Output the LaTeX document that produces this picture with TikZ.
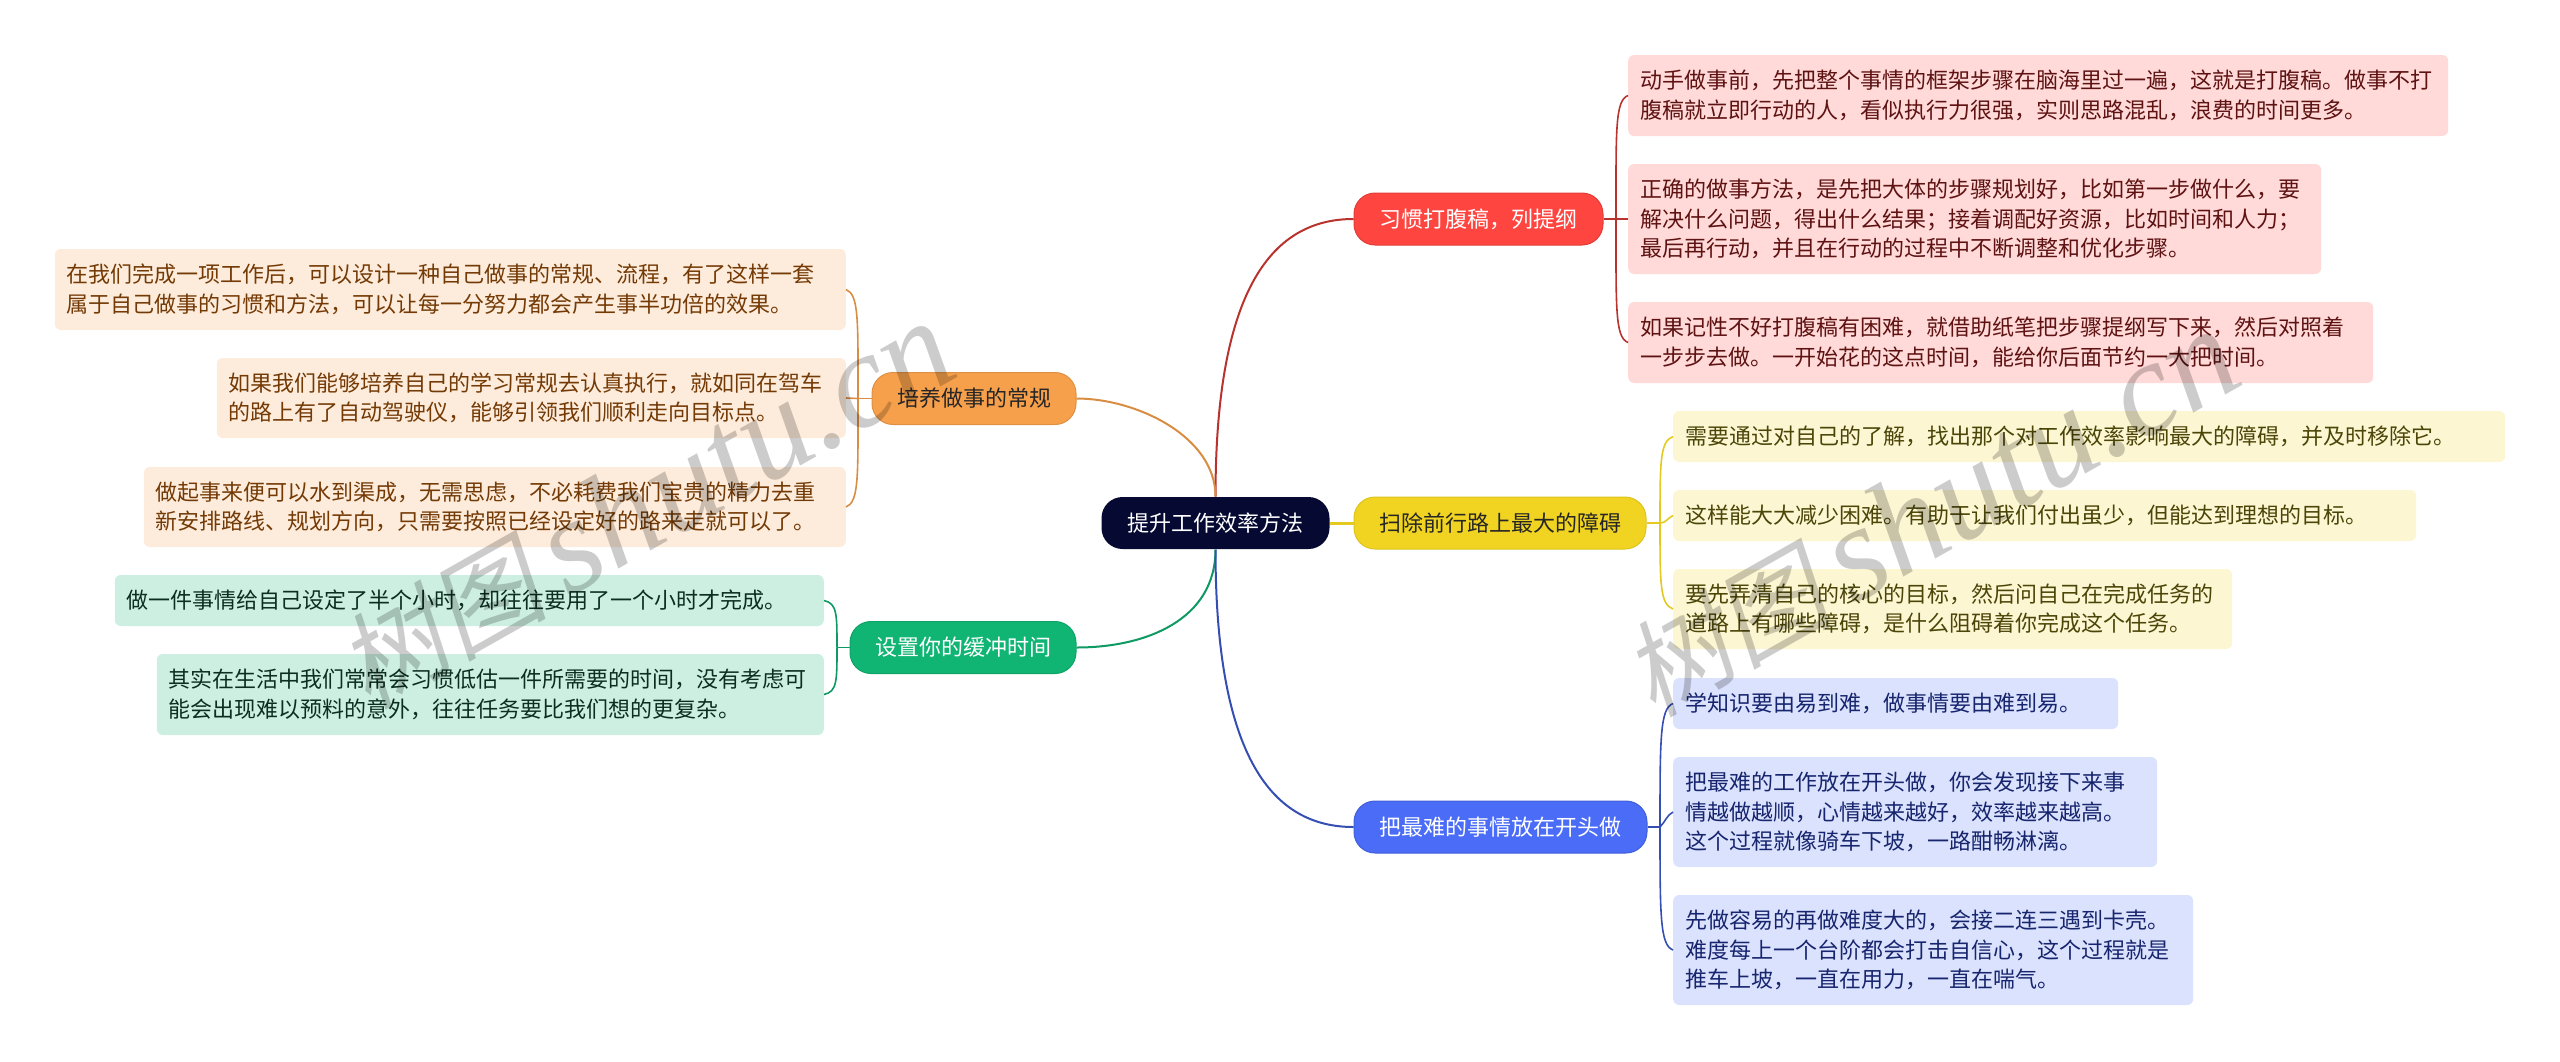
\documentclass[tikz,border=0pt]{standalone}
\usepackage{fontspec}
\setmainfont{Noto Sans CJK SC}
\newfontfamily\wmcjk[FakeSlant=0.2]{Noto Sans CJK SC}
\newfontfamily\wmlatin{Liberation Serif}

\definecolor{cRoot}{HTML}{060A33}
\definecolor{cRed}{HTML}{FF4540}
\definecolor{cOrange}{HTML}{F7A04B}
\definecolor{cYellow}{HTML}{F0D421}
\definecolor{cGreen}{HTML}{10B573}
\definecolor{cBlue}{HTML}{4A6CF7}
\definecolor{tRedText}{HTML}{5E1212}
\definecolor{tOrangeText}{HTML}{743A06}
\definecolor{tYellowText}{HTML}{4C4508}
\definecolor{tGreenText}{HTML}{0C2E22}
\definecolor{tBlueText}{HTML}{17256E}

\tikzset{
  topic/.style={rounded corners=21pt, minimum height=52pt, inner sep=0pt, line width=1pt, font=\fontsize{22}{29.5}\selectfont},
  sub/.style={rounded corners=6pt, inner xsep=12pt, inner ysep=0pt, align=left, font=\fontsize{22}{29.5}\selectfont},
  subRed/.style={sub, fill=cRed!20, text=tRedText, anchor=west},
  subYellow/.style={sub, fill=cYellow!20, text=tYellowText, anchor=west},
  subBlue/.style={sub, fill=cBlue!20, text=tBlueText, anchor=west},
  subOrange/.style={sub, fill=cOrange!20, text=tOrangeText, anchor=east},
  subGreen/.style={sub, fill=cGreen!21, text=tGreenText, anchor=east},
  lineRed/.style={draw=cRed!72!black, line width=1.6pt},
  lineOrange/.style={draw=cOrange!88!black, line width=1.6pt},
  lineYellow/.style={draw=cYellow!95!black, line width=1.6pt},
  lineGreen/.style={draw=cGreen!85!black, line width=1.6pt},
  lineBlue/.style={draw=cBlue!72!black, line width=1.6pt},
  mark text/.style={text=black, opacity=0.2, rotate=29.5}
}

\begin{document}
\begin{tikzpicture}[x=1pt, y=-1pt]
    \useasboundingbox (0,0) rectangle (2560,1061);

    % Centre
    \node[topic, fill=cRoot, text=white, minimum width=228pt] (root) at (1215.5,523) {提升工作效率方法};

    % Topics
    \node[topic, fill=cRed, draw=cRed!88!black, text=white, minimum width=249pt] (nRed) at (1478.5,219) {习惯打腹稿，列提纲};
    \node[topic, fill=cYellow, draw=cYellow!92!black, text=black!85, minimum width=292pt] (nYellow) at (1500,523) {扫除前行路上最大的障碍};
    \node[topic, fill=cBlue, draw=cBlue!88!black, text=white, minimum width=293pt] (nBlue) at (1500.5,827) {把最难的事情放在开头做};
    \node[topic, fill=cOrange, draw=cOrange!90!black, text=black!85, minimum width=204pt] (nOrange) at (974,398.5) {培养做事的常规};
    \node[topic, fill=cGreen, draw=cGreen!90!black, text=white, minimum width=226pt] (nGreen) at (963,647.5) {设置你的缓冲时间};

    % Right, red
    \node[subRed, text width=796pt, minimum height=81pt] (r1) at (1628,95.5) {动手做事前，先把整个事情的框架步骤在脑海里过一遍，这就是打腹稿。做事不打\\腹稿就立即行动的人，看似执行力很强，实则思路混乱，浪费的时间更多。};
    \node[subRed, text width=669pt, minimum height=110pt] (r2) at (1628,219) {正确的做事方法，是先把大体的步骤规划好，比如第一步做什么，要\\解决什么问题，得出什么结果；接着调配好资源，比如时间和人力；\\最后再行动，并且在行动的过程中不断调整和优化步骤。};
    \node[subRed, text width=721pt, minimum height=81pt] (r3) at (1628,342.5) {如果记性不好打腹稿有困难，就借助纸笔把步骤提纲写下来，然后对照着\\一步步去做。一开始花的这点时间，能给你后面节约一大把时间。};

    % Right, yellow
    \node[subYellow, text width=808pt, minimum height=51pt] (y1) at (1673,436.5) {需要通过对自己的了解，找出那个对工作效率影响最大的障碍，并及时移除它。};
    \node[subYellow, text width=719pt, minimum height=51pt] (y2) at (1673,515.5) {这样能大大减少困难。有助于让我们付出虽少，但能达到理想的目标。};
    \node[subYellow, text width=535pt, minimum height=80pt] (y3) at (1673,609) {要先弄清自己的核心的目标，然后问自己在完成任务的\\道路上有哪些障碍，是什么阻碍着你完成这个任务。};

    % Right, blue
    \node[subBlue, text width=421pt, minimum height=51pt] (b1) at (1673,703.5) {学知识要由易到难，做事情要由难到易。};
    \node[subBlue, text width=460pt, minimum height=110pt] (b2) at (1673,812) {把最难的工作放在开头做，你会发现接下来事\\情越做越顺，心情越来越好，效率越来越高。\\这个过程就像骑车下坡，一路酣畅淋漓。};
    \node[subBlue, text width=496pt, minimum height=110pt] (b3) at (1673,950) {先做容易的再做难度大的，会接二连三遇到卡壳。\\难度每上一个台阶都会打击自信心，这个过程就是\\推车上坡，一直在用力，一直在喘气。};

    % Left, orange
    \node[subOrange, text width=767pt, minimum height=81pt] (o1) at (846,289.5) {在我们完成一项工作后，可以设计一种自己做事的常规、流程，有了这样一套\\属于自己做事的习惯和方法，可以让每一分努力都会产生事半功倍的效果。};
    \node[subOrange, text width=605pt, minimum height=80pt] (o2) at (846,398) {如果我们能够培养自己的学习常规去认真执行，就如同在驾车\\的路上有了自动驾驶仪，能够引领我们顺利走向目标点。};
    \node[subOrange, text width=678pt, minimum height=80pt] (o3) at (846,507) {做起事来便可以水到渠成，无需思虑，不必耗费我们宝贵的精力去重\\新安排路线、规划方向，只需要按照已经设定好的路来走就可以了。};

    % Left, green
    \node[subGreen, text width=685pt, minimum height=51pt] (g1) at (824,600.5) {做一件事情给自己设定了半个小时，却往往要用了一个小时才完成。};
    \node[subGreen, text width=643pt, minimum height=81pt] (g2) at (824,694.5) {其实在生活中我们常常会习惯低估一件所需要的时间，没有考虑可\\能会出现难以预料的意外，往往任务要比我们想的更复杂。};

    % Trunks
    \coordinate (tRed) at (1616,219);
    \coordinate (tYellow) at (1660,523);
    \coordinate (tBlue) at (1660,827);
    \coordinate (tOrange) at (858,398.5);
    \coordinate (tGreen) at (837,647.5);

    % Edges from the centre
    \draw[lineRed, line width=2pt] (root.north) .. controls +(0,-210) and +(-80,0) .. (nRed.west);
    \draw[lineOrange, line width=2pt] (root.north) .. controls +(0,-60) and +(60,0) .. (nOrange.east);
    \draw[lineYellow, line width=3pt] (root.east) -- (nYellow.west);
    \draw[lineGreen, line width=2pt] (root.south) .. controls +(0,70) and +(70,0) .. (nGreen.east);
    \draw[lineBlue, line width=2pt] (root.south) .. controls +(0,210) and +(-80,0) .. (nBlue.west);

    % Edges to the notes
    \draw[lineRed] (nRed.east) -- (tRed);
    \draw[lineRed] (tRed) .. controls +(0,-89) and +(-13,5) .. (r1.west);
    \draw[lineRed] (tRed) -- (r2.west);
    \draw[lineRed] (tRed) .. controls +(0,89) and +(-13,-5) .. (r3.west);
    \draw[lineYellow] (nYellow.east) -- (tYellow);
    \draw[lineYellow] (tYellow) .. controls +(0,-62) and +(-13,5) .. (y1.west);
    \draw[lineYellow] (tYellow) .. controls +(6,0) and +(-6,3) .. (y2.west);
    \draw[lineYellow] (tYellow) .. controls +(0,62) and +(-13,-5) .. (y3.west);
    \draw[lineBlue] (nBlue.east) -- (tBlue);
    \draw[lineBlue] (tBlue) .. controls +(0,-89) and +(-13,5) .. (b1.west);
    \draw[lineBlue] (tBlue) .. controls +(5,-5) and +(-6,3) .. (b2.west);
    \draw[lineBlue] (tBlue) .. controls +(0,89) and +(-13,-5) .. (b3.west);
    \draw[lineOrange] (nOrange.west) -- (tOrange);
    \draw[lineOrange] (tOrange) .. controls +(0,-78) and +(13,5) .. (o1.east);
    \draw[lineOrange] (tOrange) -- (o2.east);
    \draw[lineOrange] (tOrange) .. controls +(0,78) and +(13,-5) .. (o3.east);
    \draw[lineGreen] (nGreen.west) -- (tGreen);
    \draw[lineGreen] (tGreen) .. controls +(0,-34) and +(13,3) .. (g1.east);
    \draw[lineGreen] (tGreen) .. controls +(0,34) and +(13,-3) .. (g2.east);

    % Watermarks
    \node[mark text] (wmLeft) at (645,505) {\fontsize{105}{115}\selectfont{\wmcjk 树图}\hspace{20pt}{\fontsize{135}{135}\selectfont\wmlatin\itshape shutu.cn}};
    \node[mark text] (wmRight) at (1930,513) {\fontsize{105}{115}\selectfont{\wmcjk 树图}\hspace{20pt}{\fontsize{135}{135}\selectfont\wmlatin\itshape shutu.cn}};
\end{tikzpicture}
\end{document}
